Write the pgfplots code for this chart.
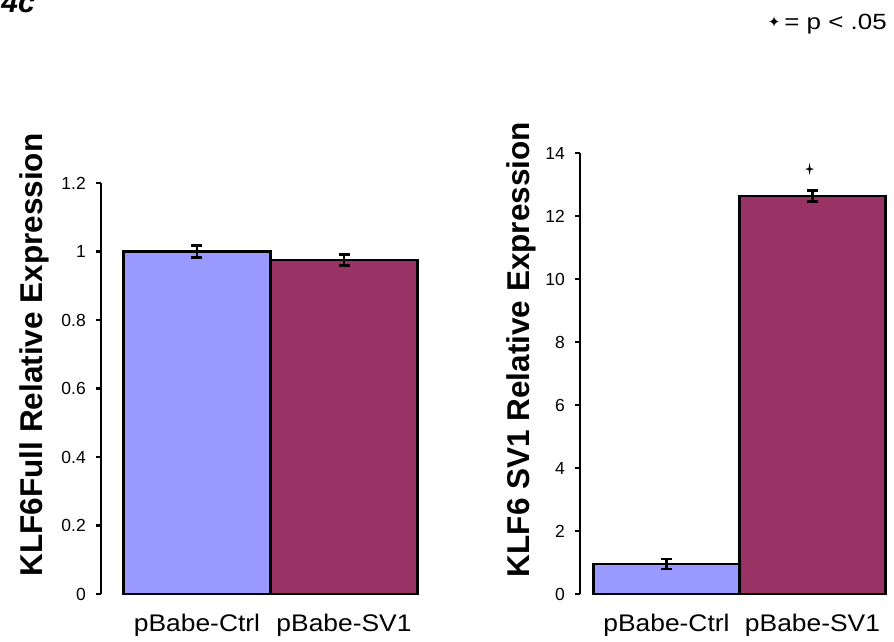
\documentclass[border=0pt]{standalone}
\usepackage{fontspec}
\setmainfont{Liberation Sans}
\newfontfamily\dejavu{DejaVu Sans}
\usepackage{graphicx}
\usepackage{pgfplots}
\pgfplotsset{compat=1.18}

\definecolor{ctrlblue}{HTML}{9999FF}
\definecolor{svplum}{HTML}{993366}

% thin four-pointed star used as the significance mark
\pgfdeclareplotmark{sparkle}{%
  \pgfpathmoveto{\pgfqpoint{0pt}{6pt}}%
  \pgfpathlineto{\pgfqpoint{1pt}{1pt}}%
  \pgfpathlineto{\pgfqpoint{4.5pt}{0pt}}%
  \pgfpathlineto{\pgfqpoint{1pt}{-1pt}}%
  \pgfpathlineto{\pgfqpoint{0pt}{-6pt}}%
  \pgfpathlineto{\pgfqpoint{-1pt}{-1pt}}%
  \pgfpathlineto{\pgfqpoint{-4.5pt}{0pt}}%
  \pgfpathlineto{\pgfqpoint{-1pt}{1pt}}%
  \pgfpathclose
  \pgfusepathqfill}

\newcommand{\hs}[1]{\scalebox{1.1}[1]{#1}}

\pgfplotsset{
  exprbar/.style={
    scale only axis,
    axis y line*=left,
    axis x line*=bottom,
    x axis line style={draw=none},
    y axis line style={line width=2.4pt, black},
    xtick style={draw=none},
    ytick style={line width=2.4pt, black},
    tick align=outside,
    major tick length=5pt,
    xtick={0,1},
    xticklabels={\hs{pBabe-Ctrl},\hs{pBabe-SV1}},
    x tick label style={font=\fontsize{24}{24}\selectfont, anchor=base, yshift=-32pt},
    y tick label style={font=\fontsize{17.5}{17.5}\selectfont, inner sep=0pt, xshift=-10pt},
    /pgf/number format/assume math mode=true,
    ylabel style={font=\fontsize{31.5}{36}\selectfont\bfseries, anchor=base},
    xmax=1.5, ymin=0,
    clip=false,
  },
  exprbars/.style={ybar, bar width=1, bar shift=0pt, draw=black, line width=2.4pt, fill=#1,
    error bars/.cd, y dir=both, y explicit,
    error bar style={line width=2.4pt, black},
    error mark options={rotate=90, mark size=5.5pt, line width=2.4pt, black}},
}

\begin{document}
\begin{tikzpicture}[x=1pt,y=1pt]
\path[use as bounding box] (0,0) rectangle (894,641);

% panel label and significance key
\node[anchor=base east, inner sep=0pt] at (35,628) {\fontsize{30}{30}\selectfont\bfseries\itshape 4c};
\node[anchor=base east, inner sep=0pt] at (887,611)
  {\raisebox{2pt}{\dejavu\fontsize{15}{15}\selectfont ✦}\hspace{4pt}\scalebox{1.18}[1]{\fontsize{22}{22}\selectfont = p < .05}};

% full-length KLF6
\begin{axis}[exprbar,
  at={(101pt,47pt)}, anchor=south west,
  width=316.5pt, height=411pt,
  xmin=-0.653, ymax=1.2,
  ytick={0,0.2,0.4,0.6,0.8,1,1.2},
  ylabel={KLF6Full Relative Expression},
  ylabel style={at={(axis description cs:-0.1864,0.5815)}},
]
\addplot[exprbars=ctrlblue] coordinates {(0,1.0) +- (0,0.017)};
\addplot[exprbars=svplum] coordinates {(1,0.975) +- (0,0.016)};
\end{axis}

% KLF6 SV1 splice variant
\begin{axis}[exprbar,
  at={(580pt,47pt)}, anchor=south west,
  width=305.5pt, height=441pt,
  xmin=-0.592, ymax=14,
  ytick={0,2,4,6,8,10,12,14},
  ylabel={KLF6 SV1 Relative Expression},
  ylabel style={at={(axis description cs:-0.1669,0.5544)}},
]
\addplot[exprbars=ctrlblue] coordinates {(0,0.95) +- (0,0.16)};
\addplot[exprbars=svplum] coordinates {(1,12.63) +- (0,0.175)};
\addplot[only marks, mark=sparkle, black] coordinates {(0.98,13.49)};
\end{axis}
\end{tikzpicture}
\end{document}
